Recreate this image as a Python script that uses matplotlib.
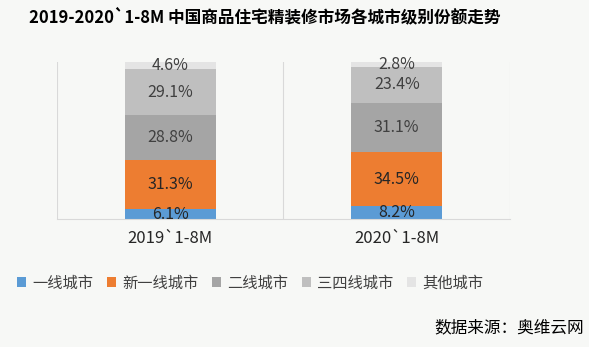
import numpy as np
import matplotlib.pyplot as plt
from matplotlib.patches import Patch

plt.rcParams['font.family'] = ['Noto Sans CJK SC', 'DejaVu Sans']

categories = ['2019`1-8M', '2020`1-8M']
series = ['一线城市', '新一线城市', '二线城市', '三四线城市', '其他城市']
values = {
    '一线城市': [6.1, 8.2],
    '新一线城市': [31.3, 34.5],
    '二线城市': [28.8, 31.1],
    '三四线城市': [29.1, 23.4],
    '其他城市': [4.6, 2.8],
}
colors = ['#5B9BD5', '#ED7D31', '#A5A5A5', '#BFBFBF', '#E4E4E4']
label_colors = ['#262626', '#262626', '#404040', '#404040', '#404040']

bg = '#F7F8F6'
fig = plt.figure(figsize=(5.89, 3.47), dpi=100, facecolor=bg)
ax = fig.add_axes([0.0968, 0.369, 0.769, 0.452], facecolor=bg)

x = np.arange(len(categories))
bottom = np.zeros(len(categories))
for name, c, lc in zip(series, colors, label_colors):
    v = np.array(values[name])
    ax.bar(x, v, 0.4, bottom=bottom, color=c, zorder=2)
    for xi, vi, bi in zip(x, v, bottom):
        ax.text(xi, bi + vi / 2, f'{vi:.1f}%', ha='center', va='center',
                fontsize=11.5, color=lc, zorder=3)
    bottom += v

ax.set_xlim(-0.5, 1.5)
ax.set_ylim(0, 100)
for xv in [-0.5, 0.5, 1.5]:
    ax.axvline(xv, color='#D9D9D9', lw=0.8, zorder=1)
for s in ['top', 'right', 'left']:
    ax.spines[s].set_visible(False)
ax.spines['bottom'].set_color('#D9D9D9')
ax.set_yticks([])
ax.set_xticks(x)
ax.set_xticklabels(categories, fontsize=12, color='#262626')
ax.tick_params(axis='x', length=0, pad=8)

handles = [Patch(facecolor=c, label=n) for n, c in zip(series, colors)]
fig.legend(handles=handles, loc='center left', bbox_to_anchor=(0.005, 0.185),
           ncol=5, frameon=False, fontsize=11, handlelength=0.6,
           handleheight=0.6, handletextpad=0.4, columnspacing=0.9,
           labelcolor='#404040')

fig.text(0.05, 0.95, '2019-2020`1-8M 中国商品住宅精装修市场各城市级别份额走势',
         fontsize=12, fontweight='bold', color='#000000', va='center')
fig.text(0.992, 0.055, '数据来源：奥维云网', fontsize=12, color='#000000',
         ha='right', va='center')

fig.savefig('out.png', dpi=100, facecolor=bg)
